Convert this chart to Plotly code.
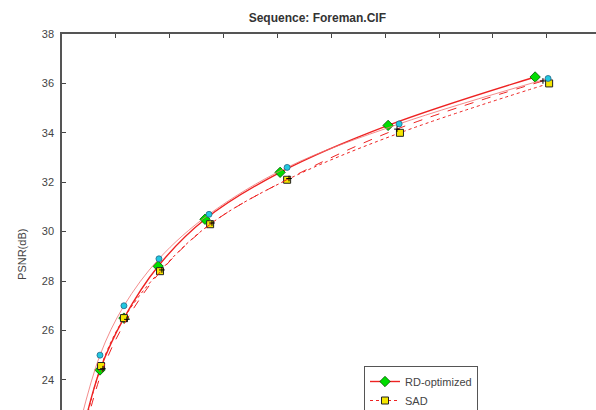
import plotly.graph_objects as go

# Bit rate (kbps) and PSNR (dB) per series
rate_rd = [70, 141, 230, 357, 531, 810, 1211, 1757]
psnr_rd = [21.6, 24.4, 26.5, 28.6, 30.5, 32.4, 34.3, 36.26]

rate_sad = [72, 145, 230, 364, 550, 836, 1255, 1809]
psnr_sad = [21.5, 24.56, 26.5, 28.4, 30.3, 32.1, 34.0, 36.0]

rate_c = [66, 141, 230, 360, 546, 836, 1252, 1805]
psnr_c = [22.2, 25.0, 27.0, 28.9, 30.7, 32.6, 34.36, 36.2]

rate_k = [75, 152, 241, 371, 557, 843, 1244, 1786]
psnr_k = [21.5, 24.45, 26.45, 28.45, 30.35, 32.15, 34.15, 36.1]

y_ticks = [24, 26, 28, 30, 32, 34, 36, 38]

RED = "#ee2222"

fig = go.Figure()

fig.add_trace(go.Scatter(
    x=rate_rd, y=psnr_rd, name="RD-optimized", mode="lines+markers",
    line=dict(color=RED, width=1.4, shape="spline"),
    marker=dict(symbol="diamond", size=8, color="#00dd00", line=dict(color="#005500", width=0.8))))
fig.add_trace(go.Scatter(
    x=rate_sad, y=psnr_sad, name="SAD", mode="lines+markers",
    line=dict(color=RED, width=1, dash="dot", shape="spline"),
    marker=dict(symbol="square", size=7, color="#f5e600", line=dict(color="#222222", width=1))))
fig.add_trace(go.Scatter(
    x=rate_c, y=psnr_c, name="series 3", mode="lines+markers", showlegend=False,
    line=dict(color="#f07070", width=0.8, shape="spline"),
    marker=dict(symbol="circle", size=6, color="#22c8e0", line=dict(color="#226688", width=0.8))))
fig.add_trace(go.Scatter(
    x=rate_k, y=psnr_k, name="series 4", mode="lines+markers", showlegend=False,
    line=dict(color=RED, width=1, dash="dash", shape="spline"),
    marker=dict(symbol="cross-thin", size=4, color="#000000", line=dict(color="#000000", width=1))))

fig.update_layout(
    width=596, height=410,
    margin=dict(l=62, r=0, t=34, b=0, autoexpand=False),
    paper_bgcolor="white", plot_bgcolor="white",
    font=dict(family="Liberation Sans, Arial, sans-serif", size=11, color="#444444"),
    title=dict(text="<b>Sequence: Foreman.CIF</b>", x=0.5325, xanchor="center",
               y=1 - 18 / 410, yanchor="middle", font=dict(size=12, color="#333333")),
    showlegend=True,
    legend=dict(x=(364 - 62) / 534, y=(410 - 366) / 376, xanchor="left", yanchor="top",
                bgcolor="white", bordercolor="#555555", borderwidth=1,
                font=dict(size=11, color="#444444"), entrywidth=150,
                tracegroupgap=0, itemwidth=30),
    xaxis=dict(range=[0, 1983], side="top", showticklabels=False, ticks="inside",
               ticklen=4, tickcolor="#444444", dtick=200, tick0=0,
               showline=True, linecolor="#555555", linewidth=1.5,
               showgrid=False, zeroline=False),
    yaxis=dict(range=[22.78, 38], tickvals=y_ticks, ticks="inside", ticklen=4,
               tickcolor="#444444", showline=True, linecolor="#555555", linewidth=1.5,
               showgrid=False, zeroline=False, ticklabelstandoff=4),
    yaxis2=dict(range=[22.78, 38], overlaying="y", side="right", tickvals=y_ticks,
                ticks="inside", ticklen=4, tickcolor="#888888", showticklabels=False,
                showline=False, showgrid=False, zeroline=False),
)

fig.add_annotation(text="PSNR(dB)", textangle=-90, xref="paper", yref="paper",
                   x=-0.075, y=(410 - 254) / 376, showarrow=False,
                   font=dict(size=11, color="#444444"), xanchor="center", yanchor="middle")

fig.write_html("out.html", config={"displayModeBar": False},
               post_script="document.body.style.margin='0';document.body.style.overflow='hidden';")
